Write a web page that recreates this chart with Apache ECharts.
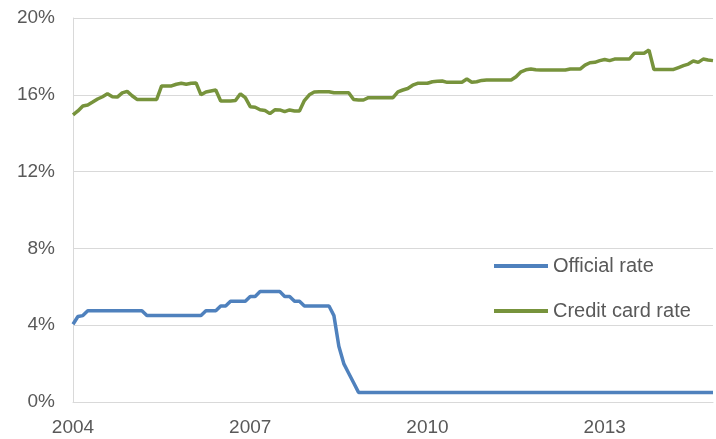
<!DOCTYPE html>
<html>
<head>
<meta charset="utf-8">
<script src="https://cdn.jsdelivr.net/npm/echarts@6/dist/echarts.min.js"></script>
<style>
  html, body { margin: 0; padding: 0; background: #fff; }
  #chart { width: 716px; height: 439px; }
</style>
</head>
<body>
<div id="chart"></div>
<script>
// monthly points, first one April 2004
const startYear = 2004;
const startMonth = 4;
const monthCount = 131;

const officialRate = [
  4.05, 4.45, 4.5,
  4.75, 4.75, 4.75, 4.75, 4.75, 4.75, 4.75, 4.75, 4.75, 4.75, 4.75, 4.75,
  4.5, 4.5, 4.5, 4.5, 4.5, 4.5, 4.5, 4.5, 4.5, 4.5, 4.5, 4.5,
  4.75, 4.75, 4.75,
  5.0, 5.0,
  5.25, 5.25, 5.25, 5.25,
  5.5, 5.5,
  5.75, 5.75, 5.75, 5.75, 5.75,
  5.5, 5.5,
  5.25, 5.25,
  5.0, 5.0, 5.0, 5.0, 5.0, 5.0,
  4.5, 2.9, 2.0, 1.5, 1.0, 0.5,
  0.5, 0.5, 0.5, 0.5, 0.5, 0.5, 0.5, 0.5, 0.5, 0.5, 0.5, 0.5,
  0.5, 0.5, 0.5, 0.5, 0.5, 0.5, 0.5, 0.5, 0.5, 0.5, 0.5, 0.5,
  0.5, 0.5, 0.5, 0.5, 0.5, 0.5, 0.5, 0.5, 0.5, 0.5, 0.5, 0.5,
  0.5, 0.5, 0.5, 0.5, 0.5, 0.5, 0.5, 0.5, 0.5, 0.5, 0.5, 0.5,
  0.5, 0.5, 0.5, 0.5, 0.5, 0.5, 0.5, 0.5, 0.5, 0.5, 0.5, 0.5,
  0.5, 0.5, 0.5, 0.5, 0.5, 0.5, 0.5, 0.5, 0.5, 0.5, 0.5, 0.5
];

const creditCardRate = [
  14.95, 15.16, 15.42, 15.47, 15.62, 15.78, 15.9, 16.05, 15.9, 15.88,
  16.1, 16.18, 15.95, 15.76, 15.76, 15.76, 15.76, 15.76, 16.46, 16.46,
  16.46, 16.55, 16.6, 16.55, 16.6, 16.62, 16.0, 16.15, 16.2, 16.25,
  15.68, 15.68, 15.68, 15.7, 16.05, 15.85, 15.38, 15.35, 15.22, 15.18,
  15.02, 15.22, 15.21, 15.12, 15.21, 15.16, 15.16, 15.7, 16.0, 16.15,
  16.16, 16.16, 16.16, 16.11, 16.11, 16.11, 16.11, 15.75, 15.73, 15.73,
  15.85, 15.85, 15.85, 15.85, 15.85, 15.85, 16.15, 16.25, 16.33, 16.5,
  16.6, 16.6, 16.6, 16.68, 16.7, 16.72, 16.65, 16.65, 16.65, 16.65,
  16.82, 16.65, 16.68, 16.75, 16.77, 16.77, 16.77, 16.77, 16.77, 16.77,
  16.94, 17.2, 17.3, 17.34, 17.3, 17.29, 17.29, 17.29, 17.29, 17.29,
  17.29, 17.34, 17.34, 17.34, 17.55, 17.67, 17.69, 17.78, 17.84, 17.78,
  17.86, 17.86, 17.86, 17.86, 18.16, 18.16, 18.16, 18.33, 17.32, 17.32,
  17.32, 17.32, 17.32, 17.42, 17.52, 17.6, 17.76, 17.69, 17.86, 17.81,
  17.78
];

const yTicks = [0, 4, 8, 12, 16, 20];

const months = [];
for (let i = 0; i < monthCount; i++) {
  const m = startMonth - 1 + i;
  const y = startYear + Math.floor(m / 12);
  const mm = (m % 12) + 1;
  months.push(y + '-' + (mm < 10 ? '0' + mm : mm));
}

const chart = echarts.init(document.getElementById('chart'), null, { renderer: 'canvas' });

const textColor = '#595959';
const gridColor = '#d9d9d9';

const option = {
  animation: false,
  backgroundColor: '#fff',
  textStyle: { fontFamily: 'Liberation Sans, Arial, sans-serif' },
  grid: { left: 73, right: 3, top: 18, bottom: 37, containLabel: false },
  legend: {
    orient: 'vertical',
    left: 489,
    top: 250,
    icon: 'rect',
    itemWidth: 54,
    itemHeight: 4,
    itemGap: 23,
    textStyle: { color: textColor, fontSize: 20, lineHeight: 22 },
    data: ['Official rate', 'Credit card rate']
  },
  xAxis: {
    type: 'category',
    boundaryGap: false,
    data: months,
    axisLine: { show: true, lineStyle: { color: gridColor, width: 1 } },
    axisTick: { show: false },
    axisLabel: {
      interval: 35,
      color: textColor,
      fontSize: 19,
      margin: 16,
      formatter: (v) => v.slice(0, 4)
    },
    splitLine: { show: false }
  },
  yAxis: {
    type: 'value',
    min: yTicks[0],
    max: yTicks[yTicks.length - 1],
    interval: 4,
    axisLine: { show: true, lineStyle: { color: gridColor, width: 1 } },
    axisTick: { show: false },
    axisLabel: { color: textColor, fontSize: 19, margin: 18, formatter: '{value}%' },
    splitLine: { show: true, lineStyle: { color: gridColor, width: 1 } }
  },
  series: [
    {
      name: 'Official rate',
      type: 'line',
      data: officialRate,
      showSymbol: false,
      symbol: 'none',
      lineStyle: { color: '#4f81bd', width: 3.5 },
      itemStyle: { color: '#4f81bd' }
    },
    {
      name: 'Credit card rate',
      type: 'line',
      data: creditCardRate,
      showSymbol: false,
      symbol: 'none',
      lineStyle: { color: '#77933c', width: 3.5 },
      itemStyle: { color: '#77933c' }
    }
  ]
};

chart.setOption(option);
</script>
</body>
</html>
